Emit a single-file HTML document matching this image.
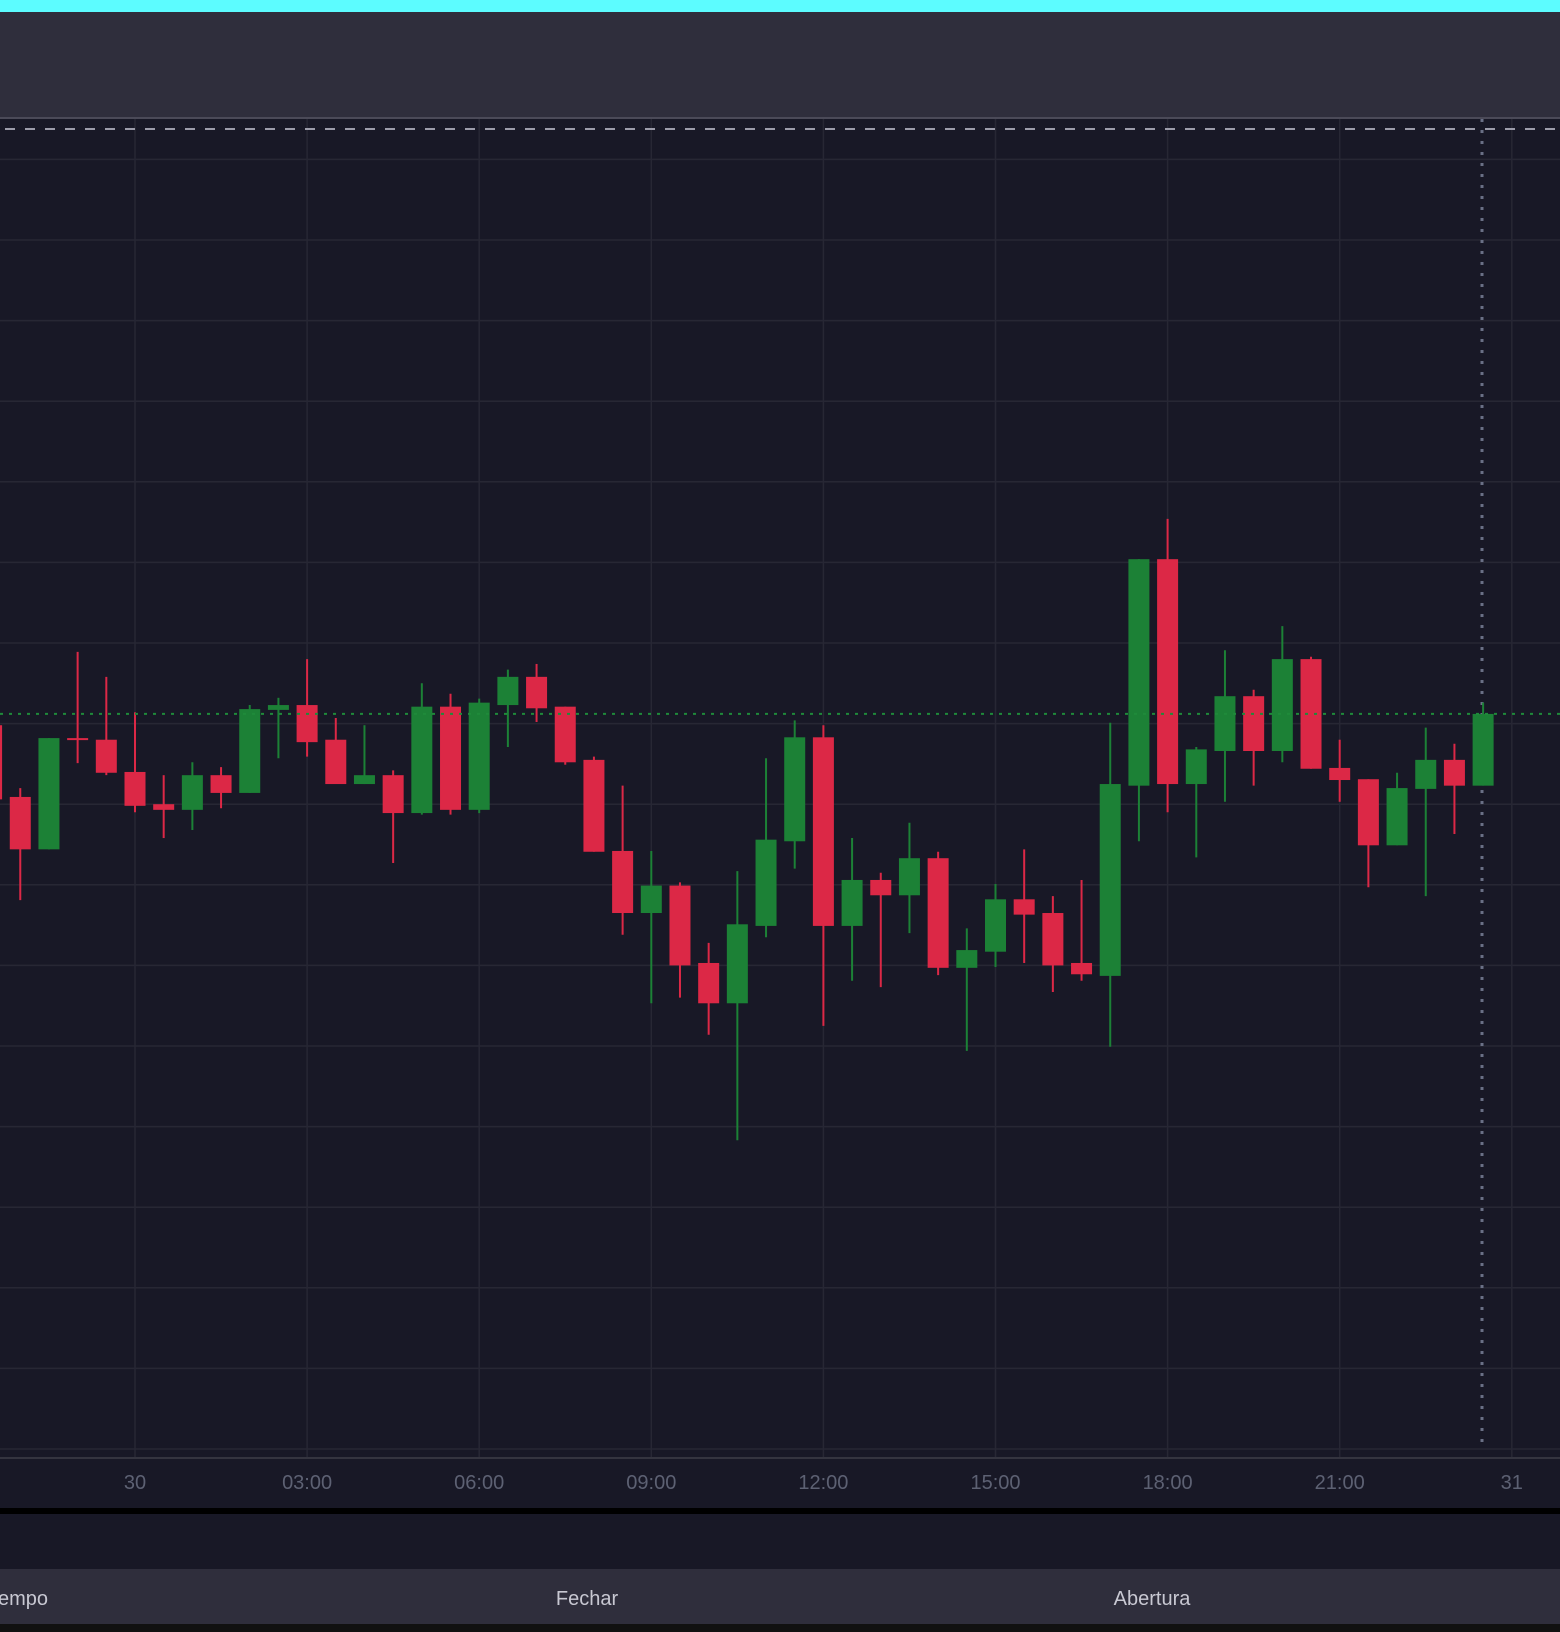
<!DOCTYPE html>
<html><head><meta charset="utf-8"><style>
html,body{margin:0;padding:0;background:#181826;width:1560px;height:1632px;overflow:hidden}
svg{display:block}
text{font-family:"Liberation Sans",sans-serif}
</style></head><body>
<svg id="chart" width="1560" height="1632" viewBox="0 0 1560 1632">
<rect x="0" y="0" width="1560" height="12" fill="#5cfcff"/>
<rect x="0" y="12" width="1560" height="105" fill="#2f2e3c"/>
<rect x="0" y="117" width="1560" height="2" fill="#4b4a58"/>
<rect x="0" y="119" width="1560" height="1389" fill="#181826"/>
<g id="grid"></g>
<line x1="0" y1="1458" x2="1560" y2="1458" stroke="#34343f" stroke-width="2"/>
<g id="xlabels"></g>
<line x1="0" y1="129" x2="1560" y2="129" stroke="#9c9caa" stroke-width="2" stroke-dasharray="10 10" stroke-dashoffset="-5"/>
<line x1="1482" y1="119" x2="1482" y2="1449" stroke="#6a7086" stroke-width="3" stroke-dasharray="3 8"/>
<g id="candles"></g>
<line id="lastline" x1="0" x2="1560" stroke="#1f8a3a" stroke-width="2" stroke-dasharray="3 6"/>
<rect x="0" y="1508" width="1560" height="6" fill="#000"/>
<rect x="0" y="1514" width="1560" height="55" fill="#181826"/>
<rect x="0" y="1569" width="1560" height="55" fill="#2f2e3c"/>
<rect x="0" y="1624" width="1560" height="8" fill="#111"/>
<text x="-2" y="1605" font-size="20" fill="#c8c8d2">empo</text>
<text x="587" y="1605" font-size="20" fill="#c8c8d2" text-anchor="middle">Fechar</text>
<text x="1152" y="1605" font-size="20" fill="#c8c8d2" text-anchor="middle">Abertura</text>
</svg>
<script>
const tickLabels = ["30","03:00","06:00","09:00","12:00","15:00","18:00","21:00","31"];
const priceTicks = [0,10,20,30,40,50,60,70,80,90,100,110,120,130,140,150,160];
const startIndex = -5;
const opens  = [89.8,80.9,74.4,88.2,88.0,84.0,80.0,79.3,83.6,81.4,91.7,92.3,88.0,82.5,83.6,78.9,92.1,79.3,92.3,95.8,92.1,85.5,74.2,66.5,69.9,60.3,55.3,64.9,75.4,88.3,64.9,70.6,68.7,73.3,59.7,61.7,68.2,66.5,60.3,58.7,82.3,110.4,82.5,86.6,93.4,86.6,98.0,84.5,83.1,74.9,81.9,85.5,82.3];
const highs  = [90.2,82.0,88.2,98.9,95.8,91.4,83.6,85.2,84.6,92.3,93.2,98.0,90.7,89.8,84.2,95.0,93.7,93.1,96.7,97.4,92.1,85.9,82.3,74.2,70.3,62.8,71.7,85.7,90.4,89.8,75.8,71.5,77.7,74.1,64.6,70.1,74.4,68.6,70.6,90.1,110.4,115.4,87.1,99.1,94.2,102.1,98.3,88.0,83.1,83.9,89.5,87.5,92.6];
const lows   = [80.3,68.1,74.4,85.1,83.6,79.0,75.8,76.8,79.5,81.4,85.7,85.9,82.5,82.5,72.7,78.7,78.7,78.9,87.1,90.2,84.9,74.1,63.8,55.3,56.0,51.4,38.3,63.5,72.0,52.5,58.1,57.3,64.0,58.8,49.4,59.8,60.3,56.7,58.1,49.9,75.4,79.0,73.4,80.3,82.3,85.2,84.4,80.3,69.7,74.9,68.6,76.3,82.3];
const closes = [80.6,74.4,88.2,88.0,83.9,79.8,79.3,83.6,81.4,91.8,92.3,87.7,82.5,83.6,78.9,92.1,79.3,92.6,95.8,91.9,85.2,74.1,66.5,69.9,60.0,55.3,65.1,75.6,88.3,64.9,70.6,68.7,73.3,59.7,61.9,68.2,66.3,60.0,58.9,82.5,110.4,82.5,86.8,93.4,86.6,98.0,84.4,83.0,74.9,82.0,85.5,82.3,91.2];

const NS="http://www.w3.org/2000/svg";
const X0=135, STEP=172.1/6, Y0=1449, PY=8.06;
function xScale(i){return X0+i*STEP;}
function yScale(p){return Y0-p*PY;}
function mk(tag,attrs,parent){const e=document.createElementNS(NS,tag);for(const k in attrs)e.setAttribute(k,attrs[k]);parent.appendChild(e);return e;}

const grid=document.getElementById('grid');
priceTicks.forEach(p=>{
  const l=mk('line',{x1:0,x2:1560,y1:yScale(p),y2:yScale(p),stroke:'#272734','stroke-width':1.5},grid);
  
  
});
const xl=document.getElementById('xlabels');
tickLabels.forEach((t,k)=>{
  const x=xScale(k*6);
  const l=mk('line',{x1:x,x2:x,y1:119,y2:1458,stroke:'#272734','stroke-width':1.5},grid);
  
  
  const tx=mk('text',{x:x,y:1489,'font-size':20,fill:'#5d6173','text-anchor':'middle'},xl);
  tx.textContent=t;
  
  
});
const cg=document.getElementById('candles');
const W=21;
opens.forEach((o,j)=>{
  const c=closes[j], x=xScale(startIndex+j), up=c>=o;
  const col=up?'#1c8136':'#dc2846';
  const g=mk('g',{},cg);
  
  
  const w=mk('line',{x1:x,x2:x,y1:yScale(highs[j]),y2:yScale(lows[j]),stroke:col,'stroke-width':2},g);
  
  
  const top=yScale(Math.max(o,c)), bot=yScale(Math.min(o,c));
  const b=mk('rect',{x:x-W/2,y:top,width:W,height:Math.max(2,bot-top),fill:col},g);
  
  
});
const ll=document.getElementById('lastline');
const ly=yScale(closes[closes.length-1]);
ll.setAttribute('y1',ly);ll.setAttribute('y2',ly);
</script>
</body></html>
